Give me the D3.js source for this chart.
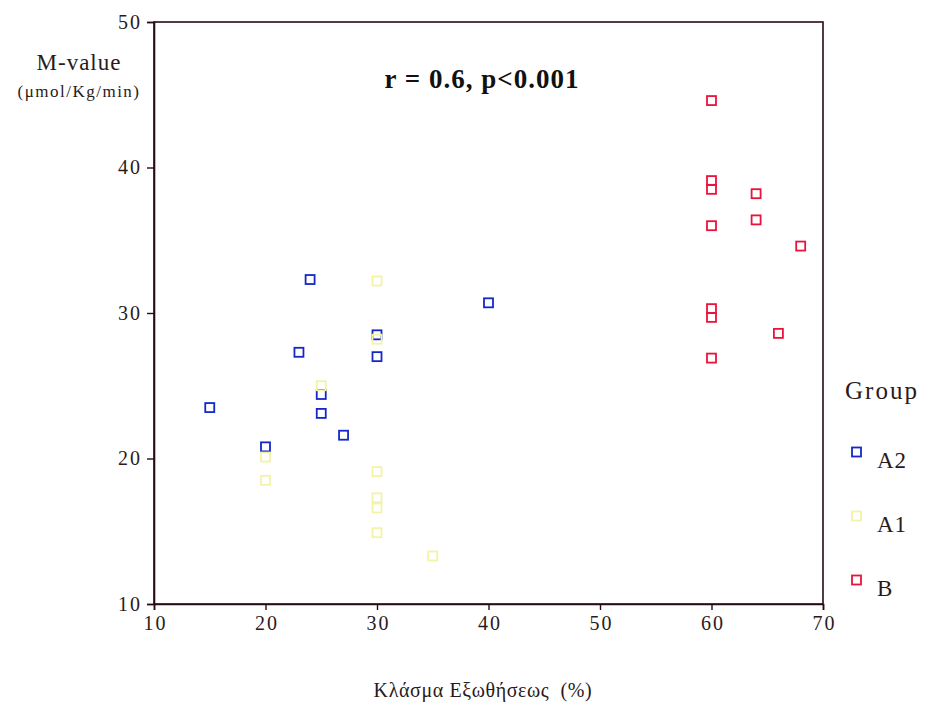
<!DOCTYPE html>
<html><head><meta charset="utf-8">
<script src="https://cdn.jsdelivr.net/npm/d3@7"></script>
<style>body{margin:0;background:#fff}svg{display:block}</style>
</head><body>
<script>
const xTicks = [10,20,30,40,50,60,70];
const yTicks = [10,20,30,40,50];
const groups = ["A2","A1","B"];
const groupColors = ["#1428c8","#f3f3a8","#e8143c"];
const a2X = [15,20,24,23,25,25,27,30,30,40];
const a2Y = [23.5,20.8,32.3,27.3,24.4,23.1,21.6,28.5,27.0,30.7];
const a1X = [30,30,25,20,20,30,30,30,30,35];
const a1Y = [32.2,28.2,25.0,20.1,18.5,19.1,17.3,16.6,14.9,13.3];
const bX = [60,60,60,64,64,60,68,60,60,66,60];
const bY = [44.6,39.1,38.5,38.2,36.4,36.0,34.6,30.3,29.7,28.6,26.9];
const seriesX = [a2X,a1X,bX];
const seriesY = [a2Y,a1Y,bY];

(function(){
const W=928,H=708;
const svg=d3.select("body").append("svg").attr("width",W).attr("height",H);
const mL=154,mR=823,mT=22,mB=604;
const x=d3.scaleLinear().domain([10,70]).range([mL,mR]);
const y=d3.scaleLinear().domain([10,50]).range([mB,mT]);
const ink="#2a0a14";
const txt="#2a1a1a";
const font="'Liberation Serif','DejaVu Serif',serif";

svg.append("rect").attr("x",mL).attr("y",mT).attr("width",mR-mL).attr("height",mB-mT)
  .attr("fill","none").attr("stroke",ink).attr("stroke-width",1.6);

const yAx=svg.append("g").attr("transform",`translate(${mL},0)`)
  .call(d3.axisLeft(y).tickValues(yTicks).tickSize(7).tickPadding(5).tickFormat(d3.format("d")));
const xAx=svg.append("g").attr("transform",`translate(0,${mB})`)
  .call(d3.axisBottom(x).tickValues(xTicks).tickSize(6).tickPadding(6).tickFormat(d3.format("d")));
[yAx,xAx].forEach(g=>{
  g.select(".domain").attr("stroke",ink).attr("stroke-width",1.6);
  g.selectAll(".tick line").attr("stroke",ink).attr("stroke-width",1.4);
  g.selectAll(".tick text").attr("fill",txt).style("font-family",font).style("font-size","20px")
    .attr("letter-spacing","2");
});
xAx.selectAll(".tick text").attr("dx","1");

groups.forEach((g,i)=>{
  const pts=seriesX[i].map((v,j)=>[v,seriesY[i][j]]);
  svg.append("g").selectAll("rect").data(pts).join("rect")
    .attr("x",d=>x(d[0])-4.5).attr("y",d=>y(d[1])-4.5)
    .attr("width",9).attr("height",9)
    .attr("fill","none").attr("stroke",groupColors[i]).attr("stroke-width",1.8);
});

svg.append("text").attr("x",79).attr("y",70).attr("text-anchor","middle")
  .style("font-family",font).style("font-size","23px").attr("fill",txt).attr("letter-spacing","1")
  .text("M-value");
svg.append("text").attr("x",79).attr("y",97).attr("text-anchor","middle")
  .style("font-family",font).style("font-size","17px").attr("fill",txt).attr("letter-spacing","1.5")
  .text("(μmol/Kg/min)");
svg.append("text").attr("x",482).attr("y",88).attr("text-anchor","middle")
  .style("font-family",font).style("font-size","27px").style("font-weight","bold").attr("fill","#111")
  .attr("letter-spacing","1")
  .text("r = 0.6, p<0.001");
svg.append("text").attr("x",483).attr("y",697).attr("text-anchor","middle")
  .style("font-family",font).style("font-size","20px").attr("fill",txt).attr("letter-spacing","0.6")
  .attr("xml:space","preserve").style("white-space","pre")
  .text("Κλάσμα Εξωθήσεως  (%)");

svg.append("text").attr("x",845).attr("y",399)
  .style("font-family",font).style("font-size","25px").attr("fill",txt).attr("letter-spacing","2").text("Group");
const ly=d3.scalePoint().domain(groups).range([452,580]);
groups.forEach((g,i)=>{
  svg.append("rect").attr("x",852).attr("y",ly(g)-4.5).attr("width",9).attr("height",9)
    .attr("fill","none").attr("stroke",groupColors[i]).attr("stroke-width",1.8);
  svg.append("text").attr("x",877).attr("y",ly(g)+16)
    .style("font-family",font).style("font-size","23px").attr("fill",txt).attr("letter-spacing","1").text(g);
});
})();
</script>
</body></html>
